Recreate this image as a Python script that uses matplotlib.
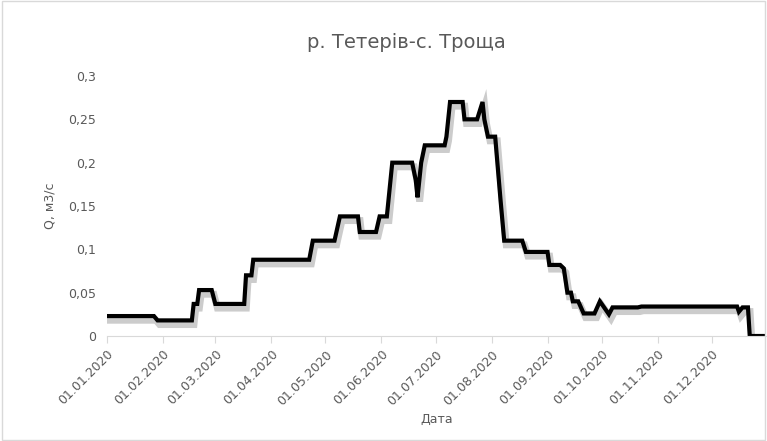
import numpy as np
import matplotlib as mpl
mpl.use('Agg')
from matplotlib import pyplot as plt
import matplotlib.patheffects as pe
import datetime as dt

# day-of-year (0 = 01.01.2020) and discharge Q, m3/s
days = [0, 26, 28, 47, 48, 50, 51, 58, 60, 76, 77, 80, 81, 112, 114, 126, 129, 139, 140,
        149, 151, 155, 158, 169, 171, 172, 174, 176, 187, 188, 190, 197, 198, 205, 208,
        209, 211, 215, 218, 220, 230, 232, 244, 245, 251, 253, 255, 257, 258, 261, 264,
        270, 273, 278, 280, 294, 296, 349, 350, 352, 355, 356, 365]
flow = [0.023, 0.023, 0.018, 0.018, 0.037, 0.037, 0.053, 0.053, 0.037, 0.037, 0.070,
        0.070, 0.088, 0.088, 0.110, 0.110, 0.138, 0.138, 0.120, 0.120, 0.138, 0.138,
        0.200, 0.200, 0.180, 0.160, 0.200, 0.220, 0.220, 0.230, 0.270, 0.270, 0.250,
        0.250, 0.270, 0.250, 0.230, 0.230, 0.156, 0.110, 0.110, 0.097, 0.097, 0.082,
        0.082, 0.078, 0.050, 0.050, 0.040, 0.040, 0.026, 0.026, 0.040, 0.025, 0.033,
        0.033, 0.034, 0.034, 0.028, 0.033, 0.033, 0.0, 0.0]
tick_labels = ['01.%02d.2020' % m for m in range(1, 13)]
tick_days = [(dt.date(2020, m, 1) - dt.date(2020, 1, 1)).days for m in range(1, 13)]

fig = plt.figure(figsize=(7.67, 4.41), dpi=100)
ax = fig.add_axes([107/767, 1 - 336/441, (766-107)/767, (336-76)/441])

ax.plot(days, flow, color='black', lw=3, solid_joinstyle='miter',
        path_effects=[pe.SimpleLineShadow(offset=(1.5, -3), shadow_color='gray', alpha=0.4, linewidth=5),
                      pe.Normal()])

ax.set_xlim(0, 365)
ax.set_ylim(0, 0.3)
ax.set_yticks(np.arange(0, 0.31, 0.05))
ax.set_yticklabels(['0', '0,05', '0,1', '0,15', '0,2', '0,25', '0,3'])
ax.set_xticks(tick_days)
ax.set_xticklabels(tick_labels, rotation=45, ha='right', rotation_mode='anchor')
for s in ['top', 'right', 'left']:
    ax.spines[s].set_visible(False)
ax.spines['bottom'].set_color('#d9d9d9')
ax.tick_params(axis='y', length=0, labelsize=9, colors='#595959', pad=8)
ax.tick_params(axis='x', length=5, color='#d9d9d9', labelsize=9, colors='#595959')

ax.set_ylabel('Q, м3/с', color='#595959', fontsize=9, labelpad=8)
ax.set_xlabel('Дата', color='#595959', fontsize=9)
fig.text(0.53, 1 - 42/441, 'р. Тетерів-с. Троща', ha='center', va='center',
         fontsize=14, color='#595959')

fig.patches.append(plt.Rectangle((0.002, 0.002), 0.996, 0.996, transform=fig.transFigure,
                                 fill=False, edgecolor='#d9d9d9', lw=1))
fig.savefig('out.png', dpi=100)
